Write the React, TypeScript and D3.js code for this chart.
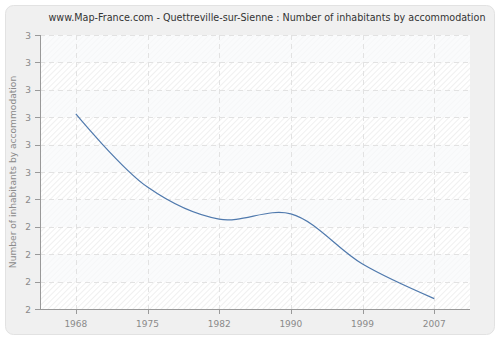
import React from "react";
import * as d3 from "d3";

const years = ["1968", "1975", "1982", "1990", "1999", "2007"];
const values = [2.712, 2.445, 2.328, 2.347, 2.164, 2.038];
const yTicks = [2.0, 2.1, 2.2, 2.3, 2.4, 2.5, 2.6, 2.7, 2.8, 2.9, 3.0];
const yTickLabels = ["2", "2", "2", "2", "2", "3", "3", "3", "3", "3", "3"];
const title = "www.Map-France.com - Quettreville-sur-Sienne : Number of inhabitants by accommodation";
const yTitle = "Number of inhabitants by accommodation";

export default function App() {
  const W = 500, H = 340;
  const left = 40, right = 470, top = 35, bottom = 309;
  const x = d3.scaleBand<string>().domain(years).range([left, right]).padding(0);
  const cx = (d: string) => (x(d) as number) + x.bandwidth() / 2;
  const y = d3.scaleLinear().domain([2, 3]).range([bottom, top]);
  const line = d3
    .line<number>()
    .x((_, i) => cx(years[i]))
    .y((d) => y(d))
    .curve(d3.curveCatmullRom.alpha(0.5));
  const font = "DejaVu Sans, Verdana, sans-serif";
  return (
    <div style={{ position: "fixed", left: 0, top: 0 }}>
      <svg width={W} height={H} style={{ display: "block" }}>
        <defs>
          <pattern id="hatch" width="4" height="4" patternUnits="userSpaceOnUse" patternTransform="rotate(45)">
            <rect width="4" height="4" fill="#ffffff" />
            <line x1="0" y1="0" x2="0" y2="4" stroke="#e6e6e6" strokeWidth="1.2" />
          </pattern>
        </defs>
        <rect x={0} y={0} width={W} height={H} fill="#ffffff" />
        <rect x={5.5} y={5.5} width={489} height={329} rx={8} ry={8} fill="#f0f0f0" stroke="#e2e2e2" />
        <rect x={left} y={top} width={right - left} height={bottom - top} fill="url(#hatch)" />
        {yTicks.slice(0, -1).map((t, i) =>
          i % 2 === 1 ? (
            <rect key={"b" + i} x={left} y={y(yTicks[i + 1])} width={right - left} height={y(t) - y(yTicks[i + 1])} fill="#f8f9fb" opacity={0.7} />
          ) : null
        )}
        {yTicks.map((t, i) => (
          <line key={"gy" + i} x1={left} x2={right} y1={Math.round(y(t)) + 0.5} y2={Math.round(y(t)) + 0.5} stroke="#e2e2e2" strokeDasharray="5,4" />
        ))}
        {years.map((yr) => (
          <line key={"gx" + yr} x1={Math.round(cx(yr)) + 0.5} x2={Math.round(cx(yr)) + 0.5} y1={top} y2={bottom} stroke="#e2e2e2" strokeDasharray="5,4" />
        ))}
        <path d={line(values) || ""} fill="none" stroke="#4f79ad" strokeWidth={1.2} />
        <line x1={left + 0.5} x2={left + 0.5} y1={top} y2={bottom} stroke="#999" />
        <line x1={left - 5} x2={right} y1={bottom + 0.5} y2={bottom + 0.5} stroke="#999" />
        {yTicks.map((t, i) => (
          <g key={"ty" + i}>
            <line x1={left - 5} x2={left} y1={Math.round(y(t)) + 0.5} y2={Math.round(y(t)) + 0.5} stroke="#999" />
            <text x={left - 9} y={y(t) + 3.5} textAnchor="end" fontSize={9} fontFamily={font} fill="#8a8a8a">
              {yTickLabels[i]}
            </text>
          </g>
        ))}
        {years.map((yr) => (
          <g key={"tx" + yr}>
            <line x1={Math.round(cx(yr)) + 0.5} x2={Math.round(cx(yr)) + 0.5} y1={bottom} y2={bottom + 5} stroke="#999" />
            <text x={cx(yr)} y={bottom + 18} textAnchor="middle" fontSize={9} fontFamily={font} fill="#8a8a8a">
              {yr}
            </text>
          </g>
        ))}
        <text x={267} y={21} textAnchor="middle" fontSize={9.6} fontFamily={font} fill="#333">
          {title}
        </text>
        <text transform={`translate(16,${(top + bottom) / 2}) rotate(-90)`} textAnchor="middle" fontSize={9.1} fontFamily={font} fill="#8a8a8a">
          {yTitle}
        </text>
      </svg>
    </div>
  );
}
